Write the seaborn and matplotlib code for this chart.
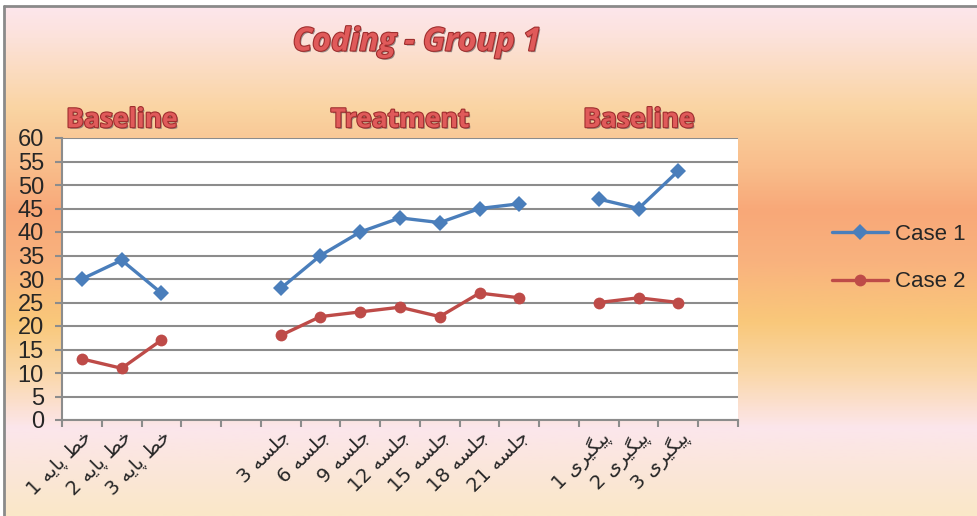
import numpy as np
import pandas as pd
import matplotlib
matplotlib.use('Agg')
import matplotlib.pyplot as plt
import matplotlib.patheffects as pe
import matplotlib.transforms as mtransforms
from matplotlib.colors import LinearSegmentedColormap
from matplotlib.lines import Line2D
import seaborn as sns

categories = ['خط پایه 1', 'خط پایه 2', 'خط پایه 3', '', '',
              'جلسه 3', 'جلسه 6', 'جلسه 9', 'جلسه 12', 'جلسه 15', 'جلسه 18', 'جلسه 21', '',
              'پیگیری 1', 'پیگیری 2', 'پیگیری 3', '']
case1 = [30, 34, 27, np.nan, np.nan, 28, 35, 40, 43, 42, 45, 46, np.nan, 47, 45, 53, np.nan]
case2 = [13, 11, 17, np.nan, np.nan, 18, 22, 23, 24, 22, 27, 26, np.nan, 25, 26, 25, np.nan]
series_names = ['Case 1', 'Case 2']
phase_names = ['Baseline', 'Treatment', 'Baseline']
title = 'Coding - Group 1'

# matplotlib has no arabic shaping/bidi, so do it by hand with presentation forms
forms = {  # isolated, final, initial, medial
    'خ': ('\uFEA5', '\uFEA6', '\uFEA7', '\uFEA8'),
    'ط': ('\uFEC1', '\uFEC2', '\uFEC3', '\uFEC4'),
    'پ': ('\uFB56', '\uFB57', '\uFB58', '\uFB59'),
    'ا': ('\uFE8D', '\uFE8E', None, None),
    'ی': ('\uFBFC', '\uFBFD', '\uFBFE', '\uFBFF'),
    'ه': ('\uFEE9', '\uFEEA', '\uFEEB', '\uFEEC'),
    'ج': ('\uFE9D', '\uFE9E', '\uFE9F', '\uFEA0'),
    'ل': ('\uFEDD', '\uFEDE', '\uFEDF', '\uFEE0'),
    'س': ('\uFEB1', '\uFEB2', '\uFEB3', '\uFEB4'),
    'گ': ('\uFB92', '\uFB93', '\uFB94', '\uFB95'),
    'ر': ('\uFEAD', '\uFEAE', None, None),
}


def shape_word(w):
    if not any(ch in forms for ch in w):
        return w
    out = []
    for i, ch in enumerate(w):
        f = forms[ch]
        prev = i > 0 and w[i - 1] in forms and forms[w[i - 1]][2] is not None
        nxt = f[2] is not None and i + 1 < len(w) and w[i + 1] in forms
        if prev and nxt:
            out.append(f[3])
        elif prev:
            out.append(f[1])
        elif nxt:
            out.append(f[2])
        else:
            out.append(f[0])
    return ''.join(out[::-1])


def rtl(s):
    return ' '.join(shape_word(t) for t in s.split(' ')[::-1])


palette = {'Case 1': '#4A7EBB', 'Case 2': '#BE4B48'}
markers = {'Case 1': 'D', 'Case 2': 'o'}
grid_col = '#8C8C8C'

pos = np.arange(len(categories))
rows = []
for name, vals in zip(series_names, [case1, case2]):
    seg = 0
    for p, v in zip(pos, vals):
        if np.isnan(v):
            seg += 1
            continue
        rows.append((name, p, v, seg))
df = pd.DataFrame(rows, columns=['case', 'pos', 'value', 'segment'])

sns.set_style('white')
plt.rcParams['font.family'] = ['Liberation Sans', 'DejaVu Sans']

W, H = 977, 516
fig = plt.figure(figsize=(W / 100, H / 100), dpi=100, facecolor='white')

# gradient background
bg = fig.add_axes([4 / W, 0, 1 - 4 / W, 1 - 6 / H], zorder=0)
stops = [(0.0, '#FDE6EC'), (0.06, '#FCE2DA'), (0.2, '#FAD4A2'), (0.32, '#F9BC8A'),
         (0.4, '#F8A878'), (0.5, '#F9B27E'), (0.62, '#F9C87A'), (0.72, '#FAD7A8'),
         (0.83, '#FCE6EC'), (0.9, '#FBE6DC'), (1.0, '#FAE8C8')]
cmap = LinearSegmentedColormap.from_list('bg', stops)
grad = np.linspace(0, 1, 400).reshape(-1, 1)
bg.imshow(grad, aspect='auto', cmap=cmap, extent=[0, 1, 0, 1], origin='upper')
bg.set_axis_off()
fig.add_artist(Line2D([4 / W, 1], [1 - 6 / H, 1 - 6 / H], transform=fig.transFigure,
                      color='#8A8A8A', lw=2))
fig.add_artist(Line2D([4 / W, 4 / W], [0, 1 - 6 / H], transform=fig.transFigure,
                      color='#8A8A8A', lw=2))

ax = fig.add_axes([62 / W, 96 / H, 676 / W, 282 / H], zorder=1)
ax.set_facecolor('white')

sns.lineplot(data=df, x='pos', y='value', hue='case', style='case', units='segment',
             estimator=None, palette=palette, markers=markers, dashes=False,
             linewidth=2.4, markersize=8.5, markeredgewidth=0, legend=False, ax=ax)

ax.set_xlim(-0.5, len(categories) - 0.5)
ax.set_ylim(0, 60)
ax.set_yticks(np.arange(0, 61, 5))
ax.yaxis.grid(True, color=grid_col, lw=1.5)
ax.xaxis.grid(False)
ax.set_axisbelow(True)
ax.set_xlabel('')
ax.set_ylabel('')

ax.set_xticks(pos)
ax.set_xticklabels([rtl(c) for c in categories], rotation=45, ha='right',
                   rotation_mode='anchor', family=['DejaVu Sans'], fontsize=14)
shift = mtransforms.ScaledTranslation(9 / 100, 0, fig.dpi_scale_trans)
for lbl in ax.get_xticklabels():
    lbl.set_transform(lbl.get_transform() + shift)
ax.set_xticks(np.arange(-0.5, len(categories)), minor=True)
ax.tick_params(axis='x', which='major', length=0, pad=5, bottom=True)
ax.tick_params(axis='x', which='minor', length=5, width=1.5, color=grid_col,
               bottom=True, direction='out')
ax.tick_params(axis='y', length=5, width=1.5, color=grid_col, left=True,
               direction='out', labelsize=17, pad=8)

for s in ['top', 'right']:
    ax.spines[s].set_visible(False)
for s in ['left', 'bottom']:
    ax.spines[s].set_color(grid_col)
    ax.spines[s].set_linewidth(1.5)

# phase headings over runs of non-empty categories
runs, start = [], None
for i, c in enumerate(categories + ['']):
    if c and start is None:
        start = i
    if not c and start is not None:
        runs.append((start, i - 1))
        start = None

word_fx = [pe.SimplePatchShadow(offset=(1.2, -1.2), shadow_rgbFace='#6E6E6E', alpha=0.7),
           pe.Stroke(linewidth=1.6, foreground='#9E2E2E'), pe.Normal()]
for (a, b), name in zip(runs, phase_names):
    ax.text((a + b) / 2, 1.065, name, transform=ax.get_xaxis_transform(),
            ha='center', va='center', fontsize=19, fontweight='bold',
            color='#E05A5A', family=['Open Sans', 'DejaVu Sans'], path_effects=word_fx)

fig.text(0.427, 1 - 42 / H, title, ha='center', va='center', fontsize=23,
         fontweight='bold', style='italic', color='#E05A5A',
         family=['Open Sans', 'DejaVu Sans'], path_effects=word_fx)

handles = [Line2D([], [], color=palette[n], marker=markers[n], lw=2.4,
                  markersize=8.5, markeredgewidth=0) for n in series_names]
ax.legend(handles, series_names, loc='center left', bbox_to_anchor=(832 / W, 1 - 258 / H),
          bbox_transform=fig.transFigure, frameon=False, fontsize=16, borderpad=0,
          handlelength=2.5, handletextpad=0.35, labelspacing=1.2, borderaxespad=0)

fig.savefig('out.png', dpi=100, facecolor=fig.get_facecolor())
